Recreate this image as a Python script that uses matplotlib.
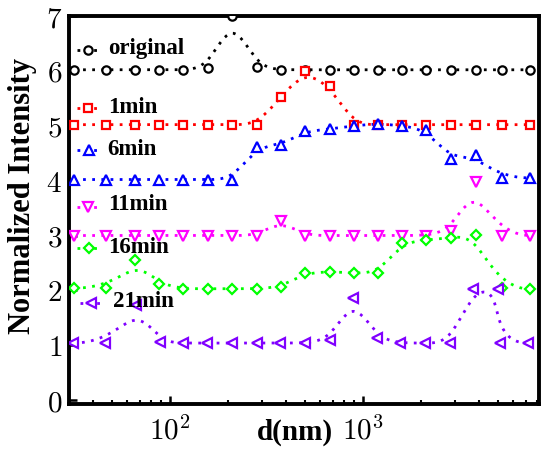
import numpy as np
import matplotlib
matplotlib.use("Agg")
import matplotlib.pyplot as plt
from matplotlib.ticker import LogLocator, FuncFormatter, NullFormatter, FixedLocator

plt.rcParams['mathtext.fontset'] = 'cm'

# ---------------- data ----------------
d_nm = [31.8, 46.6, 65.9, 87.7, 116.8, 157.3, 209.6, 282.3, 375.9, 500.6,
        674.5, 897, 1196, 1592, 2120, 2857, 3846, 5249, 7330]
d_nm_21 = [31.4, 46.0, 66.6, 88.8, 116.8, 155.5, 209.6, 282.3, 371.5, 500.6,
           674.5, 887.7, 1182, 1555, 2096, 2824, 3715, 5006, 5126, 7159]

original = [6.02, 6.02, 6.02, 6.02, 6.02, 6.05, 7.0, 6.07, 6.02, 6.02,
            6.02, 6.02, 6.02, 6.02, 6.02, 6.02, 6.02, 6.02, 6.02]
min1 = [5.02, 5.02, 5.02, 5.02, 5.02, 5.02, 5.02, 5.02, 5.53, 6.0,
        5.72, 5.02, 5.02, 5.02, 5.02, 5.02, 5.02, 5.02, 5.02]
min6 = [4.02, 4.02, 4.02, 4.02, 4.02, 4.02, 4.02, 4.62, 4.65, 4.9,
        4.94, 5.0, 5.04, 5.0, 4.93, 4.39, 4.47, 4.05, 4.05]
min11 = [3.0, 3.0, 3.0, 3.0, 3.0, 3.0, 3.0, 3.0, 3.27, 3.0,
         3.0, 3.0, 3.0, 3.0, 3.0, 3.09, 3.98, 3.0, 3.0]
min16 = [2.04, 2.04, 2.55, 2.12, 2.03, 2.03, 2.03, 2.03, 2.06, 2.32,
         2.34, 2.32, 2.31, 2.87, 2.92, 2.96, 3.01, 2.04, 2.02]
min21 = [1.04, 1.04, 1.73, 1.06, 1.04, 1.04, 1.04, 1.04, 1.04, 1.04,
         1.1, 1.87, 1.13, 1.04, 1.04, 1.04, 2.02, 2.02, 1.04, 1.04]

labels = ['original', '1min', '6min', '11min', '16min', '21min']
colors = ['#000000', '#FF0000', '#0000FF', '#FF00FF', '#00FF00', '#8000FF']
markers = ['o', 's', '^', 'v', 'D', '<']
msizes = [6.0, 5.5, 6.5, 6.5, 5.5, 6.5]
series = [(d_nm, original), (d_nm, min1), (d_nm, min6),
          (d_nm, min11), (d_nm, min16), (d_nm_21, min21)]


def bspline(xs, ys, k=3, num=600):
    P = np.column_stack([np.log10(np.asarray(xs, float)), np.asarray(ys, float)])
    n = len(P)
    t = np.concatenate([np.zeros(k), np.linspace(0, 1, n - k + 1), np.ones(k)])
    u = np.linspace(0, 1, num)
    u[-1] -= 1e-9
    N = np.zeros((num, len(t) - 1))
    for i in range(len(t) - 1):
        N[:, i] = ((t[i] <= u) & (u < t[i + 1])).astype(float)
    for dd in range(1, k + 1):
        Nn = np.zeros((num, len(t) - 1 - dd))
        for i in range(len(t) - 1 - dd):
            term = np.zeros(num)
            den1 = t[i + dd] - t[i]
            den2 = t[i + dd + 1] - t[i + 1]
            if den1 > 0:
                term += (u - t[i]) / den1 * N[:, i]
            if den2 > 0:
                term += (t[i + dd + 1] - u) / den2 * N[:, i + 1]
            Nn[:, i] = term
        N = Nn
    C = N @ P
    return 10 ** C[:, 0], C[:, 1]


W, H = 550, 458
fig = plt.figure(figsize=(W / 100, H / 100), dpi=100)
L, R, T, B = 69, 539, 16, 404
ax = fig.add_axes([L / W, 1 - B / H, (R - L) / W, (B - T) / H])
ax.set_xscale('log')
ax.set_xlim(30, 8150)
ax.set_ylim(-0.07, 7.0)

lw = 2.0
dots = (0, (1, 2.3))
for (xs, ys), c, m, ms in zip(series, colors, markers, msizes):
    sx, sy = bspline(xs, ys)
    ax.plot(sx, sy, color=c, lw=lw, linestyle=dots, zorder=2)
    ax.plot(xs, ys, linestyle='none', marker=m, ms=ms, mew=1.6,
            mfc='white', mec=c, zorder=3)

# in-plot legend entries (pixel positions)
leg = [  # marker x, marker y, line x0, line x1, text x, text baseline
    (88, 50, 77, 101, 108, 54),
    (88, 108, 77, 101, 108, 113),
    (89, 150, 77, 101, 107, 155),
    (88, 207, 77, 101, 108, 210),
    (89, 248, 77, 101, 108, 253),
    (91, 303, 80, 104, 113, 307),
]


def axf(px, py):
    return (px - L) / (R - L), (B - py) / (B - T)


for (mx, my, x0, x1, tx, ty), lab, c, m, ms in zip(leg, labels, colors, markers, msizes):
    a0 = axf(x0, my)
    a1 = axf(x1, my)
    ax.plot([a0[0], a1[0]], [a0[1], a1[1]], transform=ax.transAxes,
            color=c, lw=lw, linestyle=(0, (1, 2.0)), zorder=4, clip_on=False)
    am = axf(mx, my)
    ax.plot([am[0]], [am[1]], transform=ax.transAxes, marker=m, ms=ms, mew=1.6,
            mfc='white', mec=c, linestyle='none', zorder=5, clip_on=False)
    at = axf(tx, ty)
    ax.text(at[0], at[1], lab, transform=ax.transAxes, ha='left', va='baseline',
            fontsize=16.5, fontweight='bold', family='Liberation Serif',
            color='black', zorder=6)

# axes styling
for s in ax.spines.values():
    s.set_linewidth(2.8)

ax.xaxis.set_major_locator(FixedLocator([100, 1000]))
ax.xaxis.set_minor_locator(LogLocator(base=10, subs=np.arange(2, 10)))
ax.xaxis.set_minor_formatter(NullFormatter())
ax.xaxis.set_major_formatter(FuncFormatter(lambda v, p: r'$10^{%d}$' % int(round(np.log10(v)))))
ax.yaxis.set_major_locator(FixedLocator([0, 1, 2, 3, 4, 5, 6, 7]))
ax.yaxis.set_major_formatter(FuncFormatter(lambda v, p: r'$%d$' % int(round(v))))

ax.tick_params(axis='both', which='major', direction='in', length=6, width=1.8,
               labelsize=21, top=False, right=False)
ax.tick_params(axis='x', which='minor', direction='in', length=3.2, width=1.5,
               top=False)
ax.tick_params(axis='x', which='major', pad=9)
ax.tick_params(axis='y', which='major', pad=5)

fig.text(23 / W, 1 - 196 / H, 'Normalized Intensity', rotation=90, ha='center',
         va='center', fontsize=22, fontweight='bold', family='Liberation Serif')
fig.text(295 / W, 1 - 432 / H, 'd(nm)', ha='center', va='center',
         fontsize=21, fontweight='bold', family='Liberation Serif')

fig.savefig('out.png', dpi=100)
